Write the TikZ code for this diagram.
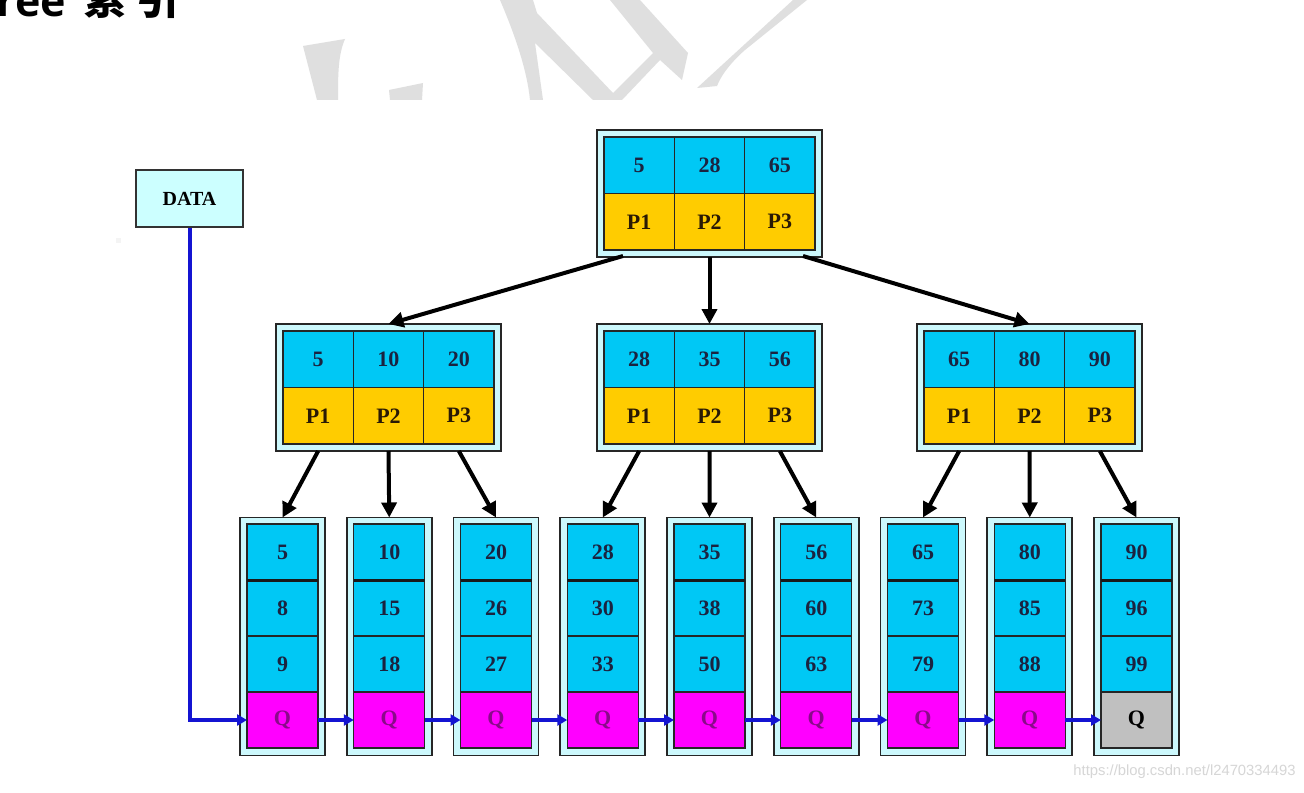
\documentclass[tikz,border=0pt]{standalone}
\usepackage{fontspec}
\setmainfont{Liberation Serif}
\newfontfamily\cjkfont{Noto Sans CJK SC}
\newfontfamily\titlefont{Open Sans}
\newfontfamily\wmfont{Liberation Sans}
\usetikzlibrary{arrows.meta}
\definecolor{cyc}{HTML}{00C8F5}
\definecolor{yel}{HTML}{FFCC00}
\definecolor{mag}{HTML}{FF00FF}
\definecolor{gry}{HTML}{C0C0C0}
\definecolor{frmc}{HTML}{CCF8FC}
\definecolor{datac}{HTML}{CCFFFF}
\definecolor{blu}{HTML}{1414D2}
\definecolor{keyc}{HTML}{1B2340}
\definecolor{pc}{HTML}{2A1A05}
\definecolor{qc}{HTML}{8A0A8A}
\definecolor{wm}{HTML}{DFDFDF}
\tikzset{
  frm/.style={draw=black!85, line width=0.9pt, fill=frmc, inner sep=0pt, outer sep=0pt},
  cell/.style={draw=black!85, line width=0.7pt, inner sep=0pt, outer sep=0pt,
    font=\bfseries\fontsize{11}{12}\selectfont},
  barr/.style={line width=2pt, black, -{Triangle[length=7.5pt,width=7.5pt]}},
  blarr/.style={line width=2pt, blu, -{Triangle[length=5pt,width=5.5pt]}},
}
\newcommand\inode[6]{%
  \node[frm, minimum width=112.5pt, minimum height=63.5pt] (#1) at (#2+105.5,#3+56.5) {};
  \foreach \i/\k in {1/#4,2/#5,3/#6}{
    \node[cell, fill=cyc, text=keyc, minimum width=35.17pt, minimum height=28.25pt]
      (#1k\i) at (#2+70.33*\i-35.17,#3+28.25) {\k};
    \node[cell, fill=yel, text=pc, minimum width=35.17pt, minimum height=28.25pt]
      (#1p\i) at (#2+70.33*\i-35.17,#3+84.75) {P\i};
  }
}
\newcommand\leaf[6]{%
  \node[frm, minimum width=42.5pt, minimum height=119pt] (L#1) at (#2+35.5,636.5) {};
  \node[cell, fill=cyc, text=keyc, minimum width=35.5pt, minimum height=28pt] (L#1a) at (#2+35.5,552) {#3};
  \node[cell, fill=cyc, text=keyc, minimum width=35.5pt, minimum height=28pt] (L#1b) at (#2+35.5,608) {#4};
  \node[cell, fill=cyc, text=keyc, minimum width=35.5pt, minimum height=28pt] (L#1c) at (#2+35.5,664) {#5};
  \node[cell, #6, minimum width=35.5pt, minimum height=28pt] (L#1q) at (#2+35.5,720) {Q};
  \draw[line width=1.5pt, black!90] (L#1a.south west) -- (L#1a.south east);
}
\begin{document}
\begin{tikzpicture}[x=0.5pt,y=-0.5pt]
\useasboundingbox (0,0) rectangle (1304,792);
\fill[white] (0,0) rectangle (1304,792);
% clipped title and watermark shapes
\begin{scope}
\clip (0,0) rectangle (1304,100);
\node[anchor=base west, inner sep=0pt, font=\titlefont\bfseries\fontsize{21.5}{24}\selectfont] (ttl) at (-4,17) {ree};
\node[anchor=base, inner sep=0pt, font=\cjkfont\bfseries\fontsize{21.5}{24}\selectfont] (tc1) at (105,15) {索};
\node[anchor=base, inner sep=0pt, font=\cjkfont\bfseries\fontsize{21.5}{24}\selectfont] (tc2) at (158,15) {引};
\fill[wm] (303,46) -- (345,39) .. controls (338,55) and (338,75) .. (338,100) -- (317,100) -- cycle;
\fill[wm] (389,90) -- (423,83) -- (422,100) -- (390,100) -- cycle;
\fill[wm] (500,0) -- (533,0) -- (537,13) -- (613,93) -- (653,53) -- (610,0) -- (640,0)
  -- (688,53) -- (682,80) -- (660,60) -- (622,100) -- (593,100) -- (535,43) -- (543,100)
  -- (530,100) .. controls (527,70) and (515,35) .. (500,0) -- cycle;
\fill[wm] (697,88) -- (793,0) -- (807,0) -- (745,50) .. controls (728,65) and (720,78) .. (717,86) -- cycle;
\end{scope}
\fill[wm!90!black!20!white] (116,238) rectangle (121,243);
% DATA
\node[draw=black!80, line width=0.8pt, fill=datac, minimum width=53.5pt, minimum height=28.5pt,
  inner sep=0pt, font=\bfseries\fontsize{10}{12}\selectfont] (data) at (189.5,198.5) {DATA};
% internal nodes
\inode{T}{604}{137}{5}{28}{65}
\inode{A}{283}{331}{5}{10}{20}
\inode{B}{604}{331}{28}{35}{56}
\inode{C}{924}{331}{65}{80}{90}
% leaves
\leaf{1}{247}{5}{8}{9}{fill=mag, text=qc}
\leaf{2}{353.75}{10}{15}{18}{fill=mag, text=qc}
\leaf{3}{460.5}{20}{26}{27}{fill=mag, text=qc}
\leaf{4}{567.25}{28}{30}{33}{fill=mag, text=qc}
\leaf{5}{674}{35}{38}{50}{fill=mag, text=qc}
\leaf{6}{780.75}{56}{60}{63}{fill=mag, text=qc}
\leaf{7}{887.5}{65}{73}{79}{fill=mag, text=qc}
\leaf{8}{994.25}{80}{85}{88}{fill=mag, text=qc}
\leaf{9}{1101}{90}{96}{99}{fill=gry, text=black}
% top arrows
\coordinate (ts1) at (623,256);
\coordinate (ts3) at (803,256);
\draw[barr] (ts1) -- (A.north);
\draw[barr] (T.south) -- (B.north);
\draw[barr] (ts3) -- (C.north);
% middle to leaves
\draw[barr] (Ap1.south |- A.south) -- (L1.north);
\draw[barr] (Ap2.south |- A.south) -- (L2.north);
\draw[barr] (Ap3.south |- A.south) -- (L3.north);
\draw[barr] (Bp1.south |- B.south) -- (L4.north);
\draw[barr] (Bp2.south |- B.south) -- (L5.north);
\draw[barr] (Bp3.south |- B.south) -- (L6.north);
\draw[barr] (Cp1.south |- C.south) -- (L7.north);
\draw[barr] (Cp2.south |- C.south) -- (L8.north);
\draw[barr] (Cp3.south |- C.south) -- (L9.north);
% blue chain
\draw[blarr] (data.south) |- (L1q.west);
\foreach \a/\b in {1/2,2/3,3/4,4/5,5/6,6/7,7/8,8/9}{
  \draw[blarr] (L\a q.east) -- (L\b q.west);
}
% url watermark
\node[anchor=east, inner sep=0pt, text=black!16, font=\wmfont\fontsize{7.4}{9}\selectfont] (url) at (1296,772) {https://blog.csdn.net/l2470334493};
\end{tikzpicture}
\end{document}
